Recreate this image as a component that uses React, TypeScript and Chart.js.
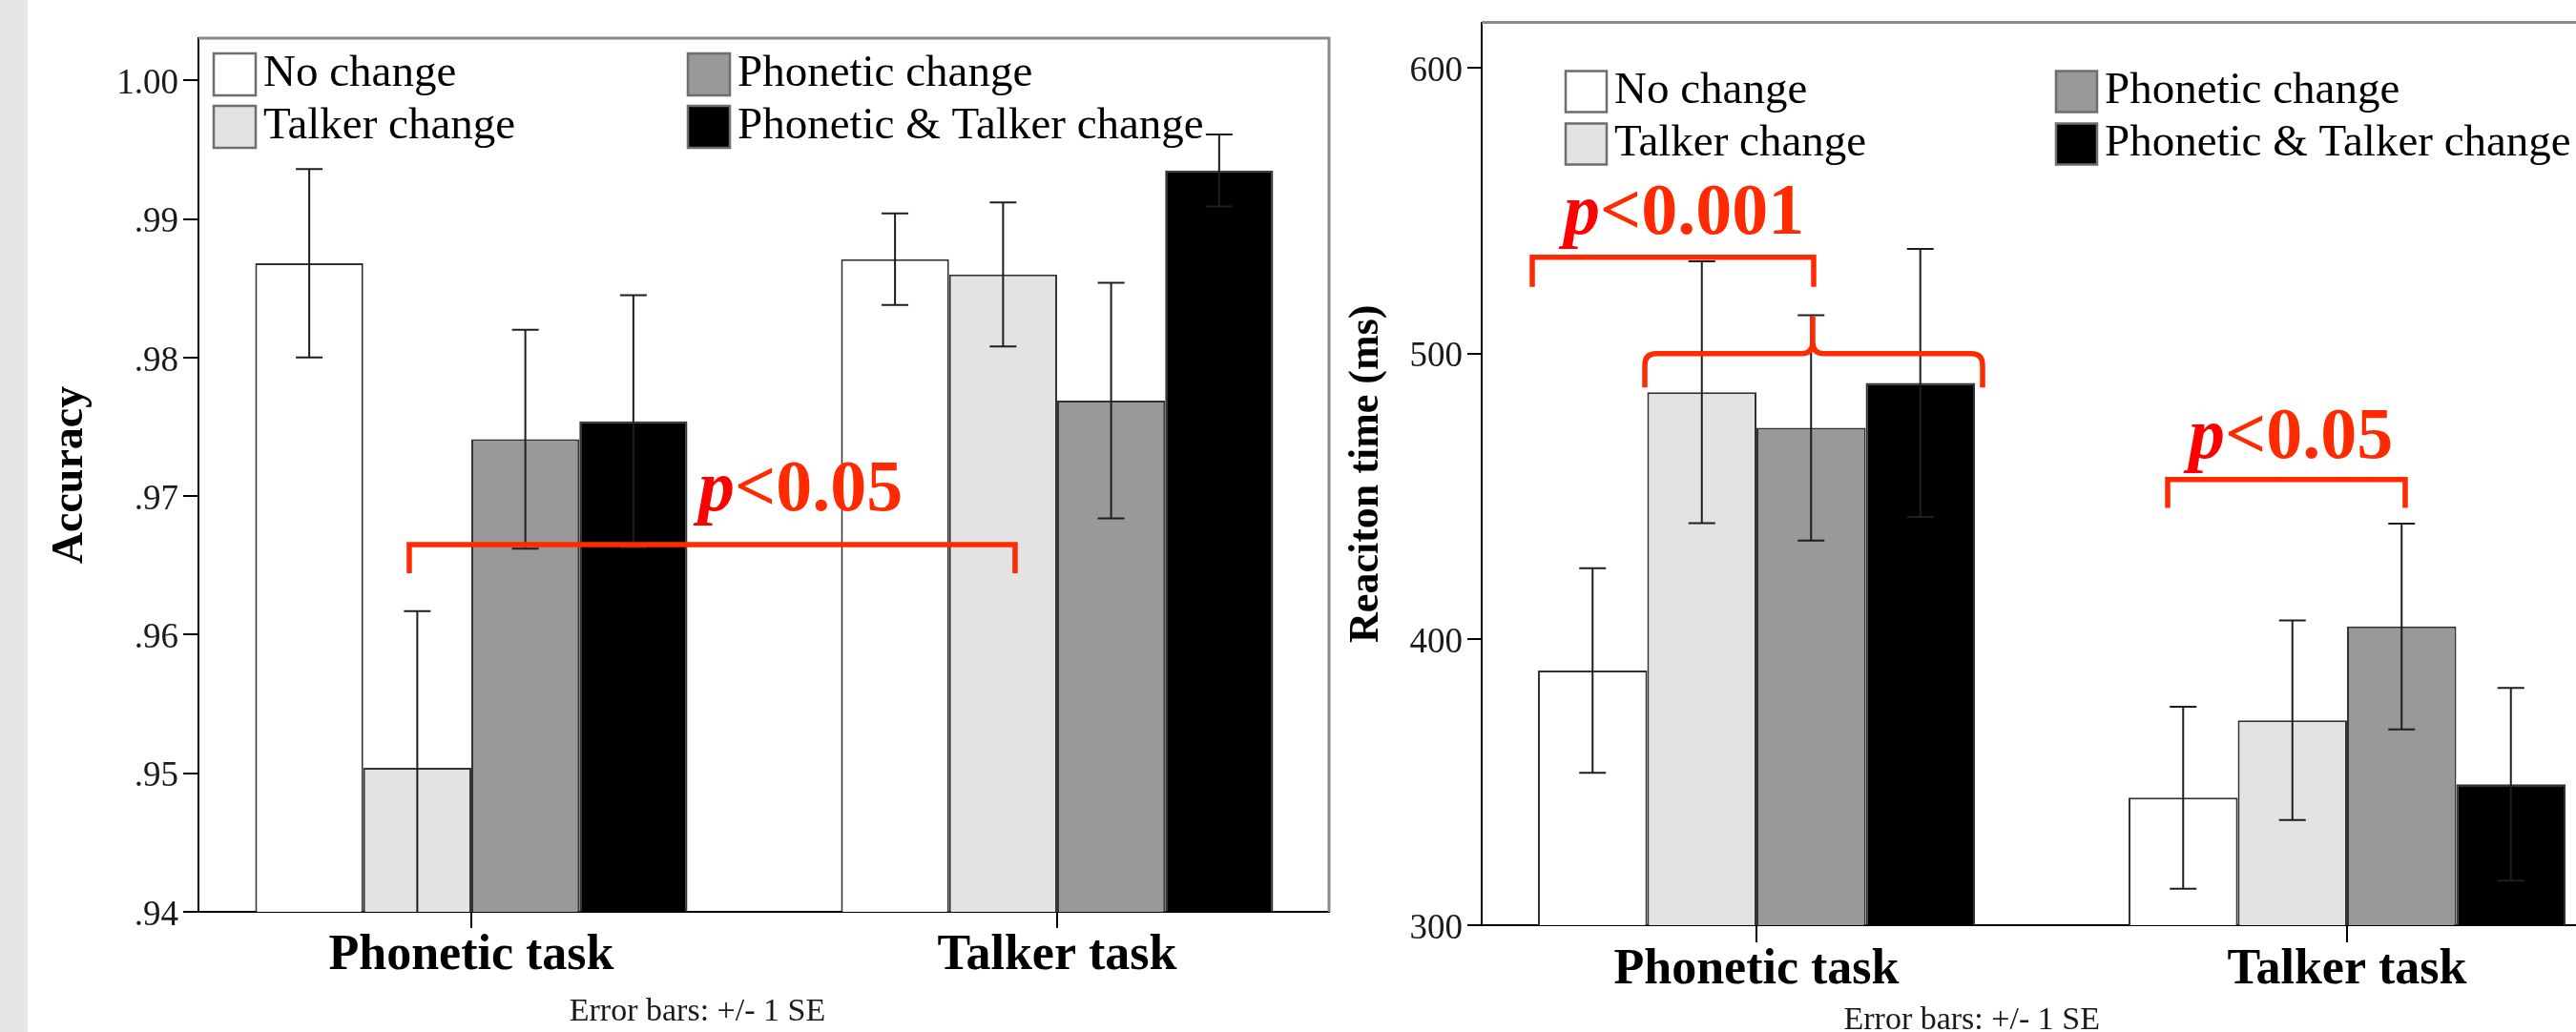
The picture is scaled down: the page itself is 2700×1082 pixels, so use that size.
import React, { useEffect, useRef } from 'react';
import { Chart, registerables } from 'chart.js';

Chart.register(...registerables);

const SERIF = "'Liberation Serif', 'Times New Roman', Times, serif";

const TASKS = ['Phonetic task', 'Talker task'];
const CONDITIONS = ['No change', 'Talker change', 'Phonetic change', 'Phonetic & Talker change'];
const CONDITION_COLORS = ['#ffffff', '#e3e3e3', '#999999', '#000000'];

// Accuracy, values per task [Phonetic task, Talker task]
const ACC_NO_CHANGE = [0.9868, 0.9871];
const ACC_TALKER_CHANGE = [0.9504, 0.986];
const ACC_PHONETIC_CHANGE = [0.9741, 0.9769];
const ACC_BOTH_CHANGE = [0.9754, 0.9935];
// +/- 1 SE
const ACC_SE_NO_CHANGE = [0.0068, 0.0033];
const ACC_SE_TALKER_CHANGE = [0.0113, 0.0052];
const ACC_SE_PHONETIC_CHANGE = [0.0079, 0.0085];
const ACC_SE_BOTH_CHANGE = [0.0091, 0.0026];
const ACC_TICKS = [0.94, 0.95, 0.96, 0.97, 0.98, 0.99, 1.0];
const ACC_TICK_LABELS = ['.94', '.95', '.96', '.97', '.98', '.99', '1.00'];

// Reaction time (ms), values per task [Phonetic task, Talker task]
const RT_NO_CHANGE = [389.1, 344.6];
const RT_TALKER_CHANGE = [486.5, 371.7];
const RT_PHONETIC_CHANGE = [474.0, 404.5];
const RT_BOTH_CHANGE = [489.7, 349.3];
// +/- 1 SE
const RT_SE_NO_CHANGE = [35.8, 31.8];
const RT_SE_TALKER_CHANGE = [45.8, 34.9];
const RT_SE_PHONETIC_CHANGE = [39.4, 36.0];
const RT_SE_BOTH_CHANGE = [46.9, 33.7];
const RT_TICKS = [300, 400, 500, 600];
const RT_TICK_LABELS = ['300', '400', '500', '600'];

// Significance annotations in axis units (x: task index, y: data value)
const ACC_BRACKETS = [{ x1: -0.1059, x2: 0.9283, y: 0.9665, yEnd: 0.96443 }];
const ACC_BRACES: any[] = [];
const ACC_P_LABELS = [{ x: 0.3876, y: 0.96897, text: '<0.05' }];

const RT_BRACKETS = [
  { x1: -0.3796, x2: 0.0969, y: 533.7, yEnd: 523.3 },
  { x1: 0.6963, x2: 1.0985, y: 455.9, yEnd: 446.0 },
];
const RT_BRACES = [{ x1: -0.189, x2: 0.3829, xMid: 0.0953, y: 500.0, yEnd: 488.1, yPeak: 513.1 }];
const RT_P_LABELS = [
  { x: -0.3263, y: 541.8, text: '<0.001' },
  { x: 0.7318, y: 463.5, text: '<0.05' },
];

const FOOTNOTE = 'Error bars: +/- 1 SE';
const RED = '#ff2a00';

const decorPlugin = {
  id: 'decor',
  beforeDraw(chart: any, _a: any, opts: any) {
    if (opts.strip) {
      const { ctx } = chart;
      ctx.save();
      ctx.fillStyle = opts.strip.color;
      ctx.fillRect(0, 0, opts.strip.width, chart.height);
      ctx.restore();
    }
  },
  afterDatasetsDraw(chart: any, _a: any, opts: any) {
    const { ctx, chartArea: ca } = chart;
    const ys = chart.scales.y;
    ctx.save();
    ctx.beginPath();
    ctx.rect(ca.left, ca.top, ca.right - ca.left, ca.bottom - ca.top);
    ctx.clip();
    ctx.strokeStyle = '#1e1e1e';
    ctx.lineWidth = 2;
    const h = opts.capWidth / 2;
    chart.data.datasets.forEach((ds: any, i: number) => {
      const meta = chart.getDatasetMeta(i);
      meta.data.forEach((bar: any, j: number) => {
        const v = ds.data[j].y;
        const se = ds.se[j];
        const yHi = ys.getPixelForValue(v + se);
        const yLo = ys.getPixelForValue(v - se);
        const x = bar.x;
        ctx.beginPath();
        ctx.moveTo(x, yLo);
        ctx.lineTo(x, yHi);
        ctx.moveTo(x - h, yHi);
        ctx.lineTo(x + h, yHi);
        ctx.moveTo(x - h, yLo);
        ctx.lineTo(x + h, yLo);
        ctx.stroke();
      });
    });
    ctx.restore();
  },
  afterDraw(chart: any, _a: any, opts: any) {
    const { ctx, chartArea: ca } = chart;
    const xs = chart.scales.x;
    const ys = chart.scales.y;
    ctx.save();

    // frame
    ctx.strokeStyle = '#8a8a8a';
    ctx.lineWidth = 3;
    ctx.beginPath();
    ctx.moveTo(ca.left, ca.top);
    ctx.lineTo(ca.right, ca.top);
    if (opts.frameRight) ctx.lineTo(ca.right, ca.bottom);
    ctx.stroke();

    // legend
    const L = opts.legend;
    chart.data.datasets.forEach((ds: any, i: number) => {
      const col = Math.floor(i / 2);
      const row = i % 2;
      const bx = ca.left + L.cols[col];
      const by = ca.top + L.top + row * L.rowGap;
      ctx.fillStyle = ds.backgroundColor;
      ctx.fillRect(bx, by, L.box, L.box);
      ctx.strokeStyle = '#6e6e6e';
      ctx.lineWidth = 2.5;
      ctx.strokeRect(bx, by, L.box, L.box);
      ctx.fillStyle = '#000';
      ctx.font = `47px ${SERIF}`;
      ctx.textAlign = 'left';
      ctx.textBaseline = 'middle';
      ctx.fillText(ds.label, bx + L.box + L.gap, by + L.box / 2);
    });

    // footnote
    ctx.fillStyle = '#1a1a1a';
    ctx.font = `34px ${SERIF}`;
    ctx.textAlign = 'center';
    ctx.textBaseline = 'alphabetic';
    ctx.fillText(FOOTNOTE, xs.getPixelForValue(opts.footnote.x), ca.bottom + opts.footnote.dy);

    // brackets
    ctx.strokeStyle = RED;
    ctx.lineWidth = 5.5;
    ctx.lineJoin = 'miter';
    ctx.lineCap = 'butt';
    (opts.brackets || []).forEach((b: any) => {
      const x1 = xs.getPixelForValue(b.x1);
      const x2 = xs.getPixelForValue(b.x2);
      const y = ys.getPixelForValue(b.y);
      const ye = ys.getPixelForValue(b.yEnd);
      ctx.beginPath();
      ctx.moveTo(x1, ye);
      ctx.lineTo(x1, y);
      ctx.lineTo(x2, y);
      ctx.lineTo(x2, ye);
      ctx.stroke();
    });
    (opts.braces || []).forEach((b: any) => {
      const x1 = xs.getPixelForValue(b.x1);
      const x2 = xs.getPixelForValue(b.x2);
      const xm = xs.getPixelForValue(b.xMid);
      const y = ys.getPixelForValue(b.y);
      const ye = ys.getPixelForValue(b.yEnd);
      const yp = ys.getPixelForValue(b.yPeak);
      const r = 12;
      ctx.beginPath();
      ctx.moveTo(x1, ye);
      ctx.lineTo(x1, y + r);
      ctx.quadraticCurveTo(x1, y, x1 + r, y);
      ctx.lineTo(xm - r, y);
      ctx.quadraticCurveTo(xm, y, xm, y - r);
      ctx.lineTo(xm, yp);
      ctx.moveTo(x2, ye);
      ctx.lineTo(x2, y + r);
      ctx.quadraticCurveTo(x2, y, x2 - r, y);
      ctx.lineTo(xm + r, y);
      ctx.quadraticCurveTo(xm, y, xm, y - r);
      ctx.stroke();
    });

    // p labels
    ctx.textAlign = 'left';
    ctx.textBaseline = 'alphabetic';
    (opts.pLabels || []).forEach((p: any) => {
      const px = xs.getPixelForValue(p.x);
      const py = ys.getPixelForValue(p.y);
      ctx.font = `italic bold 76px ${SERIF}`;
      ctx.fillStyle = '#ff0000';
      ctx.fillText('p', px, py);
      const w = ctx.measureText('p').width;
      ctx.font = `bold 76px ${SERIF}`;
      ctx.fillStyle = RED;
      ctx.fillText(p.text, px + w, py);
    });

    ctx.restore();
  },
};

function makeConfig(p: any) {
  return {
    type: 'bar',
    data: {
      datasets: CONDITIONS.map((label, i) => ({
        label,
        data: p.series[i].map((y: number, t: number) => ({ x: t, y })),
        se: p.se[i],
        backgroundColor: CONDITION_COLORS[i],
        borderColor: '#333333',
        borderWidth: 2,
        categoryPercentage: p.catPct,
        barPercentage: 1,
      })),
    },
    options: {
      animation: false,
      responsive: false,
      devicePixelRatio: 1,
      events: [],
      layout: { padding: p.padding },
      plugins: {
        legend: { display: false },
        tooltip: { enabled: false },
        title: { display: false },
        decor: p.decor,
      },
      scales: {
        x: {
          type: 'linear',
          min: p.xMin,
          max: p.xMax,
          offset: false,
          z: 1,
          grid: {
            display: true,
            drawOnChartArea: false,
            drawTicks: true,
            tickLength: p.xTickLen,
            color: '#000',
            lineWidth: 2,
            offset: false,
          },
          border: { display: true, color: '#000', width: 2 },
          afterBuildTicks: (s: any) => {
            s.ticks = TASKS.map((_t, i) => ({ value: i }));
          },
          afterFit: (s: any) => {
            s.height = p.xHeight;
          },
          ticks: {
            autoSkip: false,
            maxRotation: 0,
            minRotation: 0,
            padding: 4,
            color: '#000',
            font: { family: SERIF, size: 52, weight: 'bold', lineHeight: 1 },
            callback: (_v: any, i: number) => TASKS[i],
          },
        },
        y: {
          type: 'linear',
          min: p.yMin,
          max: p.yMax,
          beginAtZero: false,
          z: 1,
          grid: {
            display: true,
            drawOnChartArea: false,
            drawTicks: true,
            tickLength: p.yTickLen,
            color: '#000',
            lineWidth: 2,
          },
          border: { display: true, color: '#000', width: 2 },
          afterBuildTicks: (s: any) => {
            s.ticks = p.yTicks.map((v: number) => ({ value: v }));
          },
          afterFit: (s: any) => {
            s.width = p.yWidth;
          },
          ticks: {
            autoSkip: false,
            padding: 5,
            labelOffset: 4,
            color: '#1a1a1a',
            font: { family: SERIF, size: 37, lineHeight: 1 },
            callback: (_v: any, i: number) => p.yTickLabels[i],
          },
          title: {
            display: true,
            text: p.yTitle,
            color: '#000',
            font: { family: SERIF, size: p.yTitleSize, weight: 'bold', lineHeight: 1 },
            padding: { top: p.yTitlePad, bottom: 0 },
          },
        },
      },
    },
    plugins: [decorPlugin],
  };
}

const accConfig = () =>
  makeConfig({
    series: [ACC_NO_CHANGE, ACC_TALKER_CHANGE, ACC_PHONETIC_CHANGE, ACC_BOTH_CHANGE],
    se: [ACC_SE_NO_CHANGE, ACC_SE_TALKER_CHANGE, ACC_SE_PHONETIC_CHANGE, ACC_SE_BOTH_CHANGE],
    catPct: 0.7378,
    padding: { left: 0, right: 7, top: 40, bottom: 0 },
    xMin: -0.4658,
    xMax: 1.4642,
    xTickLen: 17,
    xHeight: 126,
    yMin: 0.94,
    yMax: 1.00305,
    yTicks: ACC_TICKS,
    yTickLabels: ACC_TICK_LABELS,
    yTickLen: 16,
    yWidth: 208,
    yTitle: 'Accuracy',
    yTitleSize: 46,
    yTitlePad: 51.5,
    decor: {
      strip: { width: 29, color: '#e6e6e6' },
      frameRight: true,
      capWidth: 28,
      legend: { cols: [16, 513], top: 16, rowGap: 55, box: 44, gap: 8 },
      footnote: { x: 0.386, dy: 114 },
      brackets: ACC_BRACKETS,
      braces: ACC_BRACES,
      pLabels: ACC_P_LABELS,
    },
  });

const rtConfig = () =>
  makeConfig({
    series: [RT_NO_CHANGE, RT_TALKER_CHANGE, RT_PHONETIC_CHANGE, RT_BOTH_CHANGE],
    se: [RT_SE_NO_CHANGE, RT_SE_TALKER_CHANGE, RT_SE_PHONETIC_CHANGE, RT_SE_BOTH_CHANGE],
    catPct: 0.7399,
    padding: { left: 0, right: 0, top: 14, bottom: 0 },
    xMin: -0.46527,
    xMax: 1.38772,
    xTickLen: 18,
    xHeight: 112,
    yMin: 300,
    yMax: 615.86,
    yTicks: RT_TICKS,
    yTickLabels: RT_TICK_LABELS,
    yTickLen: 15,
    yWidth: 153,
    yTitle: 'Reaciton time (ms)',
    yTitleSize: 44,
    yTitlePad: 10.2,
    decor: {
      strip: null,
      frameRight: false,
      capWidth: 28,
      legend: { cols: [88, 602], top: 51, rowGap: 55, box: 43, gap: 8 },
      footnote: { x: 0.3646, dy: 109 },
      brackets: RT_BRACKETS,
      braces: RT_BRACES,
      pLabels: RT_P_LABELS,
    },
  });

function ChartCanvas({ makeCfg, left, width, height }: any) {
  const ref = useRef<HTMLCanvasElement | null>(null);
  useEffect(() => {
    const chart = new Chart(ref.current as HTMLCanvasElement, makeCfg() as any);
    return () => chart.destroy();
  }, [makeCfg]);
  return (
    <canvas
      ref={ref}
      width={width}
      height={height}
      style={{ position: 'absolute', left, top: 0, width, height, display: 'block' }}
    />
  );
}

export default function App() {
  return (
    <div
      style={{
        position: 'fixed',
        left: 0,
        top: 0,
        width: 2700,
        height: 1082,
        overflow: 'hidden',
        background: '#ffffff',
      }}
    >
      <ChartCanvas makeCfg={accConfig} left={0} width={1400} height={1082} />
      <ChartCanvas makeCfg={rtConfig} left={1400} width={1300} height={1082} />
    </div>
  );
}
